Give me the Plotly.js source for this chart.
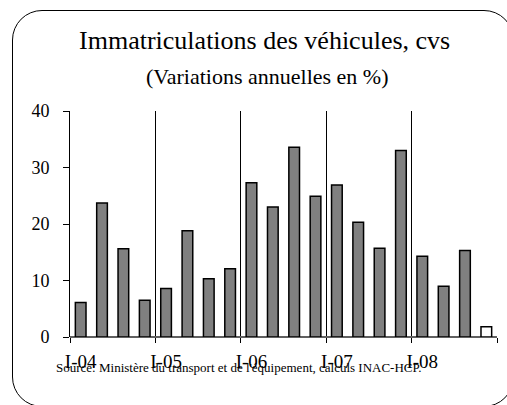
<!DOCTYPE html>
<html>
<head>
<meta charset="utf-8">
<script src="https://cdn.plot.ly/plotly-3.0.1.min.js"></script>
<style>
html,body{margin:0;padding:0;width:507px;height:405px;overflow:hidden;background:#fff;}
#chart{position:absolute;left:0;top:0;width:507px;height:405px;}
#frame{position:absolute;left:12px;top:10px;width:502px;height:397px;box-sizing:border-box;border:1.5px solid #000;border-radius:30px;pointer-events:none;}
</style>
</head>
<body>
<div id="chart"></div>
<div id="frame"></div>
<script>
// Quarterly data, 2004 Q1 .. 2008 Q4
const quarters = ["2004T1","2004T2","2004T3","2004T4","2005T1","2005T2","2005T3","2005T4",
                  "2006T1","2006T2","2006T3","2006T4","2007T1","2007T2","2007T3","2007T4",
                  "2008T1","2008T2","2008T3","2008T4"];
const values = [6.1, 23.7, 15.6, 6.5, 8.6, 18.8, 10.3, 12.1,
                27.3, 23.0, 33.6, 24.9, 26.9, 20.3, 15.7, 33.0,
                14.3, 9.0, 15.3, 1.8];
const estimated = [false,false,false,false,false,false,false,false,
                   false,false,false,false,false,false,false,false,
                   false,false,false,true];
const yearLabels = ["I-04","I-05","I-06","I-07","I-08"];
const yTicks = [0, 10, 20, 30, 40];

const idx = quarters.map((q, i) => i);
const labelPos = yearLabels.map((l, i) => i * 4);
const boundaries = yearLabels.map((l, i) => i * 4 - 0.5).concat([quarters.length - 0.5]);

const serif = "Liberation Serif";

const trace = {
  type: "bar",
  x: idx,
  y: values,
  marker: {
    color: estimated.map(e => e ? "#ffffff" : "#808080"),
    line: {color: "#000000", width: 1.5}
  },
  hoverinfo: "skip"
};

const layout = {
  width: 507, height: 405,
  margin: {l: 70, r: 10, t: 111, b: 68},
  paper_bgcolor: "#ffffff",
  plot_bgcolor: "rgba(0,0,0,0)",
  showlegend: false,
  bargap: 0.5,
  font: {family: serif, color: "#000"},
  title: {
    text: "Immatriculations des véhicules, cvs",
    font: {family: serif, size: 26, color: "#000"},
    x: 0.522, xref: "container", xanchor: "center",
    y: 1 - 40/405, yref: "container", yanchor: "middle"
  },
  xaxis: {
    range: [-0.5, quarters.length - 0.5],
    tickmode: "array",
    tickvals: labelPos,
    ticktext: yearLabels,
    ticks: "",
    ticklabelstandoff: 11,
    tickfont: {family: serif, size: 19, color: "#000"},
    showgrid: false,
    zeroline: false,
    showline: false,
    minor: {
      tickmode: "array",
      tickvals: boundaries,
      ticks: "outside",
      ticklen: 5,
      tickcolor: "#000",
      tickwidth: 1,
      showgrid: true,
      gridcolor: "#000",
      gridwidth: 1
    },
    fixedrange: true
  },
  yaxis: {
    range: [0, 40],
    tickmode: "array",
    tickvals: yTicks,
    ticks: "outside",
    ticklen: 6,
    tickcolor: "#000",
    tickwidth: 1,
    ticklabelstandoff: 10,
    tickfont: {family: serif, size: 18, color: "#000"},
    showgrid: false,
    zeroline: true,
    zerolinecolor: "#606060",
    zerolinewidth: 2,
    showline: true,
    linecolor: "#000",
    linewidth: 1,
    fixedrange: true
  },
  annotations: [
    {
      text: "(Variations annuelles en %)",
      xref: "paper", yref: "paper",
      x: (267 - 70) / 427, y: (337 - 76) / 226,
      xanchor: "center", yanchor: "middle",
      showarrow: false,
      font: {family: serif, size: 22, color: "#000"}
    },
    {
      text: "Source: Ministère du transport et de l'équipement, calculs INAC-HCP.",
      xref: "paper", yref: "paper",
      x: (54 - 70) / 427, y: (337 - 367) / 226,
      xanchor: "left", yanchor: "middle",
      showarrow: false,
      font: {family: serif, size: 13, color: "#000"}
    }
  ]
};

Plotly.newPlot("chart", [trace], layout, {displayModeBar: false, staticPlot: true});
</script>
</body>
</html>
